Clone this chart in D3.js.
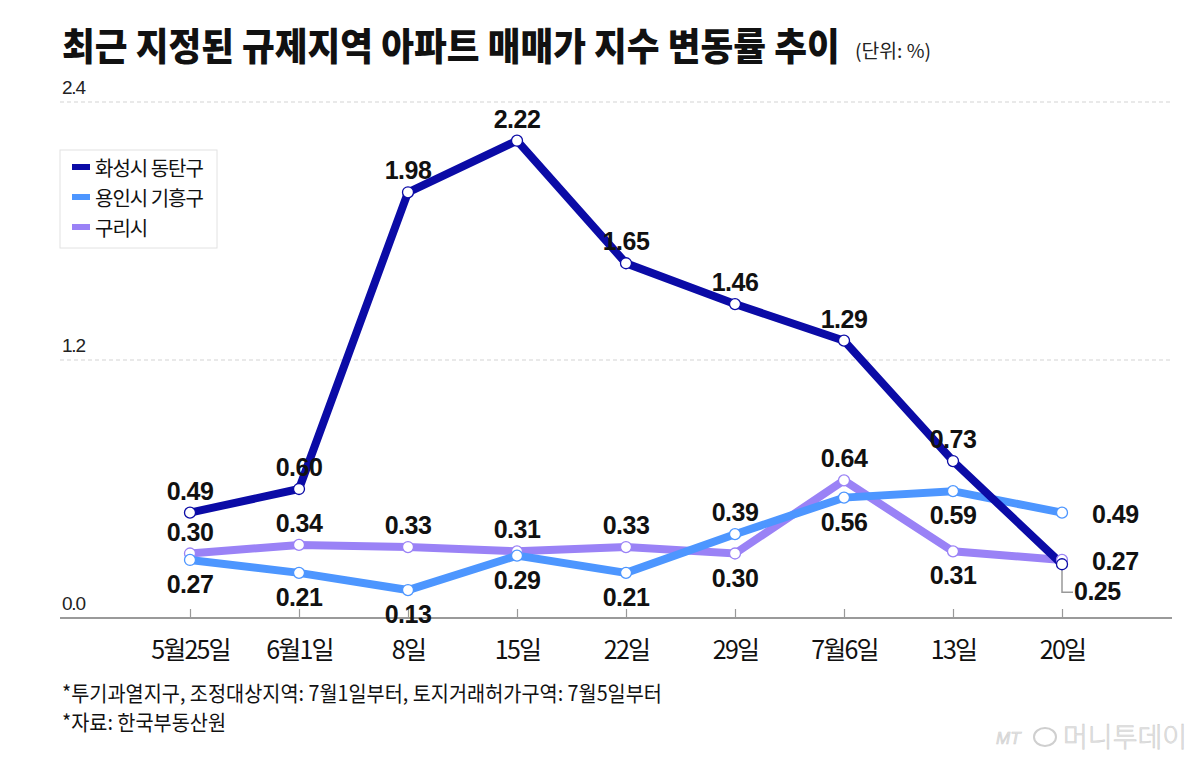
<!DOCTYPE html>
<html>
<head>
<meta charset="utf-8">
<script src="https://cdn.jsdelivr.net/npm/d3@7"></script>
<style>
  body { margin: 0; background: #fff; }
  svg { display: block; }
</style>
</head>
<body>
<svg id="chart" width="1200" height="762"></svg>
<script>
// Data
const categories = ['5월25일', '6월1일', '8일', '15일', '22일', '29일', '7월6일', '13일', '20일'];
const seriesNames = ['화성시 동탄구', '용인시 기흥구', '구리시'];
const dongtan = [0.49, 0.60, 1.98, 2.22, 1.65, 1.46, 1.29, 0.73, 0.25];
const giheung = [0.27, 0.21, 0.13, 0.29, 0.21, 0.39, 0.56, 0.59, 0.49];
const guri = [0.30, 0.34, 0.33, 0.31, 0.33, 0.30, 0.64, 0.31, 0.27];
const yTicks = [0, 1.2, 2.4];

// where each value label sits relative to its point
const labelPlace = [
    ['up', 'up', 'up', 'up', 'up', 'up', 'up', 'up', 'leader'],
    ['down', 'down', 'down', 'down', 'down', 'up', 'down', 'down', 'right'],
    ['up', 'up', 'up', 'up', 'up', 'down', 'up', 'down', 'right']
];

const colors = ['#0b0ba6', '#4d96ff', '#9a82f6'];
const series = [dongtan, giheung, guri];

const KR = '"Noto Sans CJK KR", "Noto Sans", sans-serif';
const NUM = '"Liberation Sans", Arial, sans-serif';

const svg = d3.select('#chart');

const axisLeftX = 60, axisRightX = 1172;
const x = d3.scalePoint().domain(categories).range([190, 1062]);
const y = d3.scaleLinear().domain([0, 2.4]).range([618, 102]);

// squeeze a text node horizontally to a given width (reference font is condensed)
function fitWidth(sel, px, py, w) {
    const tw = sel.node().getComputedTextLength();
    sel.attr('transform', `translate(${px},${py}) scale(${w / tw},1)`);
    return w / tw;
}

// Title
const title = svg.append('text')
    .attr('font-family', KR)
    .attr('font-weight', 900)
    .attr('font-size', 38)
    .attr('fill', '#111')
    .text('최근 지정된 규제지역 아파트 매매가 지수 변동률 추이');
fitWidth(title, 62, 60, 778);

const unit = svg.append('text')
    .attr('font-family', KR)
    .attr('font-size', 19)
    .attr('fill', '#222')
    .text('(단위: %)');
fitWidth(unit, 855, 58, 76);

// Grid lines
svg.append('g')
    .selectAll('line')
    .data(yTicks.filter(d => d > 0))
    .join('line')
    .attr('x1', axisLeftX).attr('x2', axisRightX)
    .attr('y1', d => y(d)).attr('y2', d => y(d))
    .attr('stroke', '#d4d4d4')
    .attr('stroke-width', 1.2)
    .attr('stroke-dasharray', '4,3');

// Y labels
svg.append('g')
    .selectAll('text')
    .data(yTicks)
    .join('text')
    .attr('x', 62)
    .attr('y', d => y(d) - 8)
    .attr('font-family', NUM)
    .attr('font-size', 19)
    .attr('fill', '#222')
    .attr('textLength', 24)
    .text(d => d.toFixed(1));

// X axis
const xAxis = d3.axisBottom(x).tickSize(-9).tickPadding(22).tickFormat(d => d);
const gx = svg.append('g')
    .attr('transform', `translate(0,${y(0)})`)
    .call(xAxis);
gx.select('.domain').remove();
gx.selectAll('.tick line').attr('stroke', '#999').attr('stroke-width', 1.2);
gx.selectAll('.tick text')
    .attr('font-family', KR)
    .attr('font-size', 25)
    .attr('fill', '#111')
    .attr('letter-spacing', -1.8)
    .attr('dy', '0.75em');
svg.append('line')
    .attr('x1', axisLeftX).attr('x2', axisRightX)
    .attr('y1', y(0)).attr('y2', y(0))
    .attr('stroke', '#9a9a9a')
    .attr('stroke-width', 2);

// Leader for the 0.25 label
const lastX = x(categories[categories.length - 1]);
svg.append('path')
    .attr('d', `M${lastX},${y(dongtan[8]) + 6}V${y(dongtan[8]) + 28}H${lastX + 11}`)
    .attr('fill', 'none')
    .attr('stroke', '#999')
    .attr('stroke-width', 1.5);

// Lines (draw back to front: guri, giheung, dongtan)
const line = d3.line()
    .x((d, i) => x(categories[i]))
    .y(d => y(d));

const order = [2, 1, 0];
order.forEach(s => {
    svg.append('path')
        .datum(series[s])
        .attr('d', line)
        .attr('fill', 'none')
        .attr('stroke', colors[s])
        .attr('stroke-width', 8)
        .attr('stroke-linejoin', 'miter');
});
order.forEach(s => {
    svg.append('g')
        .selectAll('circle')
        .data(series[s])
        .join('circle')
        .attr('cx', (d, i) => x(categories[i]))
        .attr('cy', d => y(d))
        .attr('r', 5.5)
        .attr('fill', '#fff')
        .attr('stroke', colors[s])
        .attr('stroke-width', 1.3);
});

// Value labels
const labels = svg.append('g')
    .attr('font-family', NUM)
    .attr('font-weight', 'bold')
    .attr('font-size', 25)
    .attr('fill', '#111')
    .attr('letter-spacing', -0.5);
series.forEach((vals, s) => {
    vals.forEach((v, i) => {
        const px = x(categories[i]), py = y(v);
        const place = labelPlace[s][i];
        let tx = px, ty = py, anchor = 'middle';
        if (place === 'up') ty = py - 22;
        else if (place === 'down') ty = py + 24;
        else if (place === 'right') { tx = px + 30; anchor = 'start'; ty = py + 1; }
        else if (place === 'leader') { tx = px + 12; anchor = 'start'; ty = py + 27; }
        labels.append('text')
            .attr('x', tx)
            .attr('y', ty)
            .attr('text-anchor', anchor)
            .attr('dominant-baseline', 'central')
            .text(v.toFixed(2));
    });
});

// Legend
const lg = svg.append('g').attr('transform', 'translate(60,150)');
lg.append('rect')
    .attr('width', 157).attr('height', 98)
    .attr('fill', '#fff')
    .attr('stroke', '#e2e2e2');
seriesNames.forEach((n, i) => {
    const row = lg.append('g').attr('transform', `translate(0,${17 + i * 30})`);
    row.append('rect')
        .attr('x', 12).attr('y', -3)
        .attr('width', 18).attr('height', 6)
        .attr('fill', colors[i]);
    row.append('text')
        .attr('x', 35)
        .attr('y', 0)
        .attr('dominant-baseline', 'central')
        .attr('font-family', KR)
        .attr('font-size', 20)
        .attr('fill', '#111')
        .attr('letter-spacing', -1)
        .text(n);
});

// Notes
const notes = [
    '*투기과열지구, 조정대상지역: 7월1일부터, 토지거래허가구역: 7월5일부터',
    '*자료: 한국부동산원'
];
const noteText = svg.append('g')
    .selectAll('text')
    .data(notes)
    .join('text')
    .attr('font-family', KR)
    .attr('font-size', 21)
    .attr('fill', '#111')
    .text(d => d);
const k = fitWidth(d3.select(noteText.nodes()[0]), 62, 701, 600);
d3.select(noteText.nodes()[1]).attr('transform', `translate(62,730) scale(${k},1)`);

// Logo
const logo = svg.append('g').attr('fill', '#e4e4e4').attr('stroke', '#cfcfcf').attr('stroke-width', 0.6);
logo.append('text')
    .attr('x', 996).attr('y', 744)
    .attr('font-family', NUM)
    .attr('font-style', 'italic')
    .attr('font-size', 17)
    .text('MT');
logo.append('ellipse')
    .attr('cx', 1045).attr('cy', 737)
    .attr('rx', 11).attr('ry', 9)
    .attr('fill', 'none')
    .attr('stroke-width', 2);
logo.append('text')
    .attr('x', 1063).attr('y', 747)
    .attr('font-family', KR)
    .attr('font-size', 27)
    .attr('font-weight', 300)
    .text('머니투데이');
</script>
</body>
</html>
